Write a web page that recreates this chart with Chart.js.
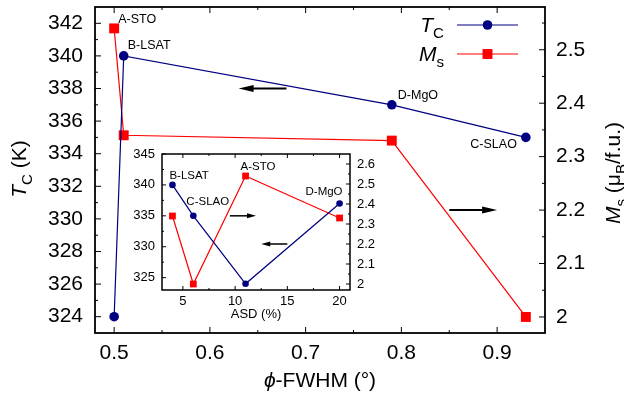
<!DOCTYPE html>
<html>
<head>
<meta charset="utf-8">
<script src="https://cdn.jsdelivr.net/npm/chart.js@4.4.1/dist/chart.umd.min.js"></script>
<style>
  html, body { margin: 0; padding: 0; background: #fff; }
  #wrap { position: relative; width: 624px; height: 398px; overflow: hidden; }
  #main { position: absolute; left: 0; top: 0; }
  #inset { position: absolute; left: 122px; top: 146px; }
</style>
</head>
<body>
<div id="wrap">
  <canvas id="main" width="624" height="398"></canvas>
  <canvas id="inset" width="260" height="180"></canvas>
</div>
<script>
// Film samples (substrate) and their measured quantities
const samples = ['A-STO', 'B-LSAT', 'C-SLAO', 'D-MgO'];
const fwhm = [0.50, 0.51, 0.93, 0.79];   // phi-scan FWHM (deg)
const asd  = [11, 4, 6, 20];             // ASD (%)
const tc   = [324, 340, 335, 337];       // Curie temperature (K)
const ms   = [2.54, 2.34, 2.00, 2.33];   // saturation moment (muB/f.u.)

// Major tick values
const fwhmTicks = [0.5, 0.6, 0.7, 0.8, 0.9];
const tcTicks = [324, 326, 328, 330, 332, 334, 336, 338, 340, 342];
const msTicks = [2, 2.1, 2.2, 2.3, 2.4, 2.5];
const asdTicks = [5, 10, 15, 20];
const tcInsetTicks = [325, 330, 335, 340, 345];
const msInsetTicks = [2, 2.1, 2.2, 2.3, 2.4, 2.5, 2.6];

const FONT = "'Liberation Sans', Arial, Helvetica, sans-serif";
const BLUE = '#000080';
const RED = '#ff0000';

// points of one quantity against one x quantity, joined in x order
function series(xs, ys) {
  return samples.map((name, i) => ({ x: xs[i], y: ys[i], name }))
    .sort((a, b) => a.x - b.x);
}

// half-step minor tick values between (and beyond) the majors
function minorsOf(majors, min, max) {
  const step = majors[1] - majors[0];
  const out = [];
  for (let k = -1; k < majors.length + 1; k++) {
    const v = majors[0] + (k + 0.5) * step;
    if (v > min + 1e-9 && v < max - 1e-9) out.push(v);
  }
  return out;
}

function fixedTicks(values) {
  return s => { s.ticks = values.map(v => ({ value: v })); };
}

function drawRich(ctx, parts, x, y, size, align, rotate) {
  ctx.save();
  ctx.translate(x, y);
  if (rotate) ctx.rotate(rotate);
  const fontOf = p => (p.italic ? 'italic ' : '') + (p.sub ? size * 0.72 : size) + 'px ' + FONT;
  let total = 0;
  const widths = parts.map(p => {
    ctx.font = fontOf(p);
    const w = ctx.measureText(p.t).width;
    total += w;
    return w;
  });
  let cx = align === 'center' ? -total / 2 : (align === 'right' ? -total : 0);
  ctx.textAlign = 'left';
  ctx.textBaseline = 'alphabetic';
  ctx.fillStyle = '#000';
  parts.forEach((p, i) => {
    ctx.font = fontOf(p);
    ctx.fillText(p.t, cx, p.sub ? size * 0.3 : 0);
    cx += widths[i];
  });
  ctx.restore();
}

function drawMarker(ctx, style, x, y, r, color) {
  ctx.fillStyle = color;
  ctx.beginPath();
  if (style === 'rect') {
    const h = r * Math.SQRT1_2;
    ctx.rect(x - h, y - h, 2 * h, 2 * h);
  } else {
    ctx.arc(x, y, r, 0, Math.PI * 2);
  }
  ctx.fill();
}

function drawArrow(ctx, x1, y1, x2, y2, lw, head, half) {
  const ang = Math.atan2(y2 - y1, x2 - x1);
  ctx.save();
  ctx.strokeStyle = '#000';
  ctx.fillStyle = '#000';
  ctx.lineWidth = lw;
  ctx.beginPath();
  ctx.moveTo(x1, y1);
  ctx.lineTo(x2 - Math.cos(ang) * head * 0.8, y2 - Math.sin(ang) * head * 0.8);
  ctx.stroke();
  ctx.translate(x2, y2);
  ctx.rotate(ang);
  ctx.beginPath();
  ctx.moveTo(0, 0);
  ctx.lineTo(-head, -half);
  ctx.lineTo(-head, half);
  ctx.closePath();
  ctx.fill();
  ctx.restore();
}

// inward tick marks (major + minor) on all four sides, plus the box
function framePlugin(cfg) {
  return {
    id: 'frame',
    afterDraw(chart) {
      const { ctx, chartArea: a } = chart;
      const sx = chart.scales.x, sy = chart.scales.y, sy2 = chart.scales.y2;
      ctx.save();
      ctx.strokeStyle = '#000';
      ctx.lineWidth = cfg.tickWidth;
      const seg = (x1, y1, x2, y2) => { ctx.beginPath(); ctx.moveTo(x1, y1); ctx.lineTo(x2, y2); ctx.stroke(); };
      [[cfg.x, cfg.major], [minorsOf(cfg.x, sx.min, sx.max), cfg.minor]].forEach(([vals, len]) => {
        vals.forEach(v => {
          const p = sx.getPixelForValue(v);
          seg(p, a.bottom, p, a.bottom - len);
          seg(p, a.top, p, a.top + len);
        });
      });
      [[cfg.y, cfg.major], [minorsOf(cfg.y, sy.min, sy.max), cfg.minor]].forEach(([vals, len]) => {
        vals.forEach(v => { const p = sy.getPixelForValue(v); seg(a.left, p, a.left + len, p); });
      });
      [[cfg.y2, cfg.major], [minorsOf(cfg.y2, sy2.min, sy2.max), cfg.minor]].forEach(([vals, len]) => {
        vals.forEach(v => { const p = sy2.getPixelForValue(v); seg(a.right, p, a.right - len, p); });
      });
      ctx.lineWidth = cfg.borderWidth;
      ctx.strokeRect(a.left, a.top, a.right - a.left, a.bottom - a.top);
      ctx.restore();
    }
  };
}

// sample names, arrows, legend and axis titles
function notesPlugin(cfg) {
  return {
    id: 'notes',
    afterDraw(chart) {
      const { ctx, chartArea: a } = chart;
      ctx.save();
      // sample labels next to their points
      ctx.font = cfg.labelSize + 'px ' + FONT;
      ctx.fillStyle = '#000';
      ctx.textBaseline = 'middle';
      cfg.labels.forEach(l => {
        const ds = chart.data.datasets[l.ds];
        const idx = ds.data.findIndex(p => p.name === l.name);
        const el = chart.getDatasetMeta(l.ds).data[idx];
        ctx.textAlign = l.align;
        ctx.fillText(l.name, el.x + l.dx, el.y + l.dy);
      });
      // arrows pointing at the relevant axis
      cfg.arrows.forEach(ar => {
        const sx = chart.scales.x, sy = chart.scales[ar.axis];
        const py = sy.getPixelForValue(ar.y);
        drawArrow(ctx, sx.getPixelForValue(ar.from), py, sx.getPixelForValue(ar.to), py, ar.lw, ar.head, ar.half);
      });
      // legend
      (cfg.legend || []).forEach(row => {
        const ds = chart.data.datasets[row.ds];
        const y = a.top + row.dy;
        drawRich(ctx, row.parts, a.right + cfg.legendText, y + 7, cfg.legendSize, 'right', 0);
        ctx.strokeStyle = ds.borderColor;
        ctx.lineWidth = ds.borderWidth;
        ctx.beginPath();
        ctx.moveTo(a.right + cfg.legendLine[0], y);
        ctx.lineTo(a.right + cfg.legendLine[1], y);
        ctx.stroke();
        drawMarker(ctx, ds.pointStyle, a.right + (cfg.legendLine[0] + cfg.legendLine[1]) / 2, y, ds.pointRadius, ds.borderColor);
      });
      // axis titles
      cfg.titles.forEach(t => {
        const x = t.at === 'bottom' ? (a.left + a.right) / 2 : (t.at === 'left' ? a.left + t.off : a.right + t.off);
        const y = t.at === 'bottom' ? a.bottom + t.off : (a.top + a.bottom) / 2 + (t.shift || 0);
        drawRich(ctx, t.parts, x, y, t.size, 'center', t.at === 'bottom' ? 0 : -Math.PI / 2);
      });
      ctx.restore();
    }
  };
}

function scaleOpts(min, max, values, position, size, fit, padding) {
  return {
    type: 'linear',
    position,
    min, max,
    afterBuildTicks: fixedTicks(values),
    afterFit: s => {
      if (position === 'bottom') s.height = fit; else s.width = fit;
      // the frame is placed by the fixed box sizes alone
      s.paddingTop = 0; s.paddingBottom = 0; s.paddingLeft = 0; s.paddingRight = 0;
    },
    grid: { display: false, drawTicks: false },
    border: { display: false },
    ticks: {
      font: { family: FONT, size },
      color: '#000',
      padding,
      maxRotation: 0,
      autoSkip: false,
      callback: v => String(v)
    }
  };
}

// ---------- main panel: Tc and Ms versus phi-FWHM ----------
new Chart(document.getElementById('main'), {
  type: 'line',
  data: {
    datasets: [
      { label: 'Tc', data: series(fwhm, tc), yAxisID: 'y',
        borderColor: BLUE, backgroundColor: BLUE, borderWidth: 1.2,
        pointStyle: 'circle', pointRadius: 4.8, pointBorderWidth: 0, pointBackgroundColor: BLUE },
      { label: 'Ms', data: series(fwhm, ms), yAxisID: 'y2',
        borderColor: RED, backgroundColor: RED, borderWidth: 1.2,
        pointStyle: 'rect', pointRadius: 7, pointBorderWidth: 0, pointBackgroundColor: RED }
    ]
  },
  options: {
    responsive: false,
    animation: false,
    events: [],
    layout: { padding: { top: 3, left: 0, right: 0, bottom: 0 } },
    plugins: { legend: { display: false }, tooltip: { enabled: false } },
    scales: {
      x: scaleOpts(0.48, 0.95, fwhmTicks, 'bottom', 21, 65, 8),
      y: scaleOpts(323, 343, tcTicks, 'left', 21, 95, 12),
      y2: scaleOpts(1.97, 2.58, msTicks, 'right', 21, 79, 11)
    }
  },
  plugins: [
    framePlugin({ x: fwhmTicks, y: tcTicks, y2: msTicks, major: 6, minor: 3, tickWidth: 1, borderWidth: 1.8 }),
    notesPlugin({
      labelSize: 12.5,
      labels: [
        { name: 'A-STO', ds: 1, dx: 4, dy: -9, align: 'left' },
        { name: 'B-LSAT', ds: 0, dx: 4, dy: -10, align: 'left' },
        { name: 'D-MgO', ds: 0, dx: 6, dy: -9, align: 'left' },
        { name: 'C-SLAO', ds: 0, dx: -9, dy: 7, align: 'right' }
      ],
      arrows: [
        { axis: 'y', y: 338, from: 0.68, to: 0.63, lw: 2, head: 15, half: 3.5 },
        { axis: 'y2', y: 2.2, from: 0.85, to: 0.90, lw: 2, head: 15, half: 3.5 }
      ],
      legendSize: 21,
      legendText: -101,
      legendLine: [-88, -27],
      legend: [
        { ds: 0, dy: 18, parts: [{ t: 'T', italic: true }, { t: 'C', sub: true }] },
        { ds: 1, dy: 47, parts: [{ t: 'M', italic: true }, { t: 's', sub: true }] }
      ],
      titles: [
        { at: 'bottom', off: 54, size: 21, parts: [{ t: '\u03D5', italic: true }, { t: '-FWHM (\u00B0)' }] },
        { at: 'left', off: -69, size: 21, shift: -1, parts: [{ t: 'T', italic: true }, { t: 'C', sub: true }, { t: ' (K)' }] },
        { at: 'right', off: 75, size: 21, shift: 3, parts: [{ t: 'M', italic: true }, { t: 's', sub: true }, { t: ' (\u03BC' }, { t: 'B', sub: true }, { t: '/f.u.)' }] }
      ]
    })
  ]
});

// ---------- inset: Tc and Ms versus ASD ----------
new Chart(document.getElementById('inset'), {
  type: 'line',
  data: {
    datasets: [
      { label: 'Tc', data: series(asd, tc), yAxisID: 'y',
        borderColor: BLUE, backgroundColor: BLUE, borderWidth: 1.2,
        pointStyle: 'circle', pointRadius: 3.3, pointBorderWidth: 0, pointBackgroundColor: BLUE },
      { label: 'Ms', data: series(asd, ms), yAxisID: 'y2',
        borderColor: RED, backgroundColor: RED, borderWidth: 1.2,
        pointStyle: 'rect', pointRadius: 4.8, pointBorderWidth: 0, pointBackgroundColor: RED }
    ]
  },
  options: {
    responsive: false,
    animation: false,
    events: [],
    layout: { padding: { top: 8, left: 0, right: 0, bottom: 0 } },
    plugins: { legend: { display: false }, tooltip: { enabled: false } },
    scales: {
      x: scaleOpts(3, 21, asdTicks, 'bottom', 13, 36, 4),
      y: scaleOpts(323, 345, tcInsetTicks, 'left', 13, 40, 7),
      y2: scaleOpts(1.97, 2.65, msInsetTicks, 'right', 13, 32, 7)
    }
  },
  plugins: [
    framePlugin({ x: asdTicks, y: tcInsetTicks, y2: msInsetTicks, major: 4, minor: 2, tickWidth: 1, borderWidth: 1.5 }),
    notesPlugin({
      labelSize: 11.5,
      labels: [
        { name: 'B-LSAT', ds: 0, dx: -3, dy: -9, align: 'left' },
        { name: 'C-SLAO', ds: 0, dx: -7, dy: -14, align: 'left' },
        { name: 'A-STO', ds: 1, dx: -5, dy: -9, align: 'left' },
        { name: 'D-MgO', ds: 0, dx: 3, dy: -12, align: 'right' }
      ],
      arrows: [
        { axis: 'y', y: 335, from: 9.5, to: 12, lw: 1.5, head: 9, half: 2.5 },
        { axis: 'y2', y: 2.2, from: 15, to: 12.5, lw: 1.5, head: 9, half: 2.5 }
      ],
      titles: [
        { at: 'bottom', off: 28, size: 13, parts: [{ t: 'ASD (%)' }] }
      ]
    })
  ]
});
</script>
</body>
</html>
